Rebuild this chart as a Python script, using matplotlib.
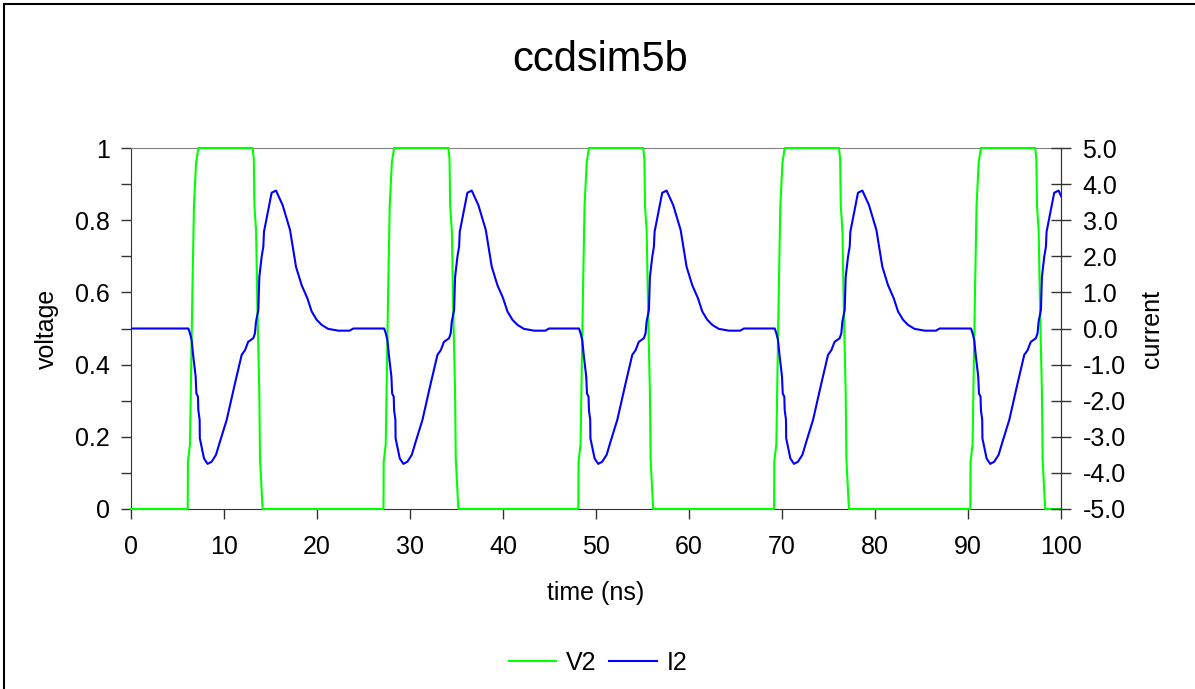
import numpy as np
import matplotlib.pyplot as plt
from matplotlib.patches import Rectangle

plt.rcParams['font.family'] = ['Liberation Sans', 'DejaVu Sans']

# one pulse of each trace (time in ns)
v2_t = [6.1, 6.12, 6.34, 6.6, 6.77, 7.0, 7.24, 13.08, 13.2, 13.27,
        13.45, 13.6, 13.8, 13.87, 14.15]
v2_v = [0, 0.13, 0.18, 0.6, 0.84, 0.96, 1.0, 1.0, 0.97, 0.84,
        0.77, 0.55, 0.32, 0.14, 0]

i2_t = [6.17, 6.34, 6.52, 6.7, 6.95, 7.03, 7.2, 7.24, 7.38, 7.4,
        7.85, 8.24, 8.67, 9.14, 9.57, 10.29, 11.18, 11.9, 12.26, 12.6,
        13.15, 13.33, 13.44, 13.69, 13.8, 14.05, 14.16, 14.23, 14.3, 15.12,
        15.59, 16.3, 17.1, 17.74, 18.35, 18.96, 19.43, 19.97, 20.5, 21.2,
        22.3, 23.5, 23.9]
i2_i = [0, -0.13, -0.32, -0.78, -1.33, -1.8, -1.89, -2.26, -2.53, -3.04,
        -3.6, -3.75, -3.69, -3.5, -3.13, -2.53, -1.52, -0.73, -0.6, -0.37,
        -0.27, -0.13, 0.19, 0.51, 1.43, 1.99, 2.17, 2.27, 2.68, 3.76,
        3.82, 3.42, 2.73, 1.71, 1.2, 0.84, 0.47, 0.24, 0.1, -0.01,
        -0.06, -0.06, 0]

# where each cycle sits relative to the first one
cycle_shift = [0, 21.05, 42.0, 63.05, 84.15]

volt_ticks = [0, 0.2, 0.4, 0.6, 0.8, 1]
volt_labels = ['0', '0.2', '0.4', '0.6', '0.8', '1']
curr_ticks = [-5, -4, -3, -2, -1, 0, 1, 2, 3, 4, 5]
curr_labels = ['-5.0', '-4.0', '-3.0', '-2.0', '-1.0', '0.0',
               '1.0', '2.0', '3.0', '4.0', '5.0']
time_ticks = [0, 10, 20, 30, 40, 50, 60, 70, 80, 90, 100]

vt = np.concatenate([[0]] + [np.array(v2_t) + s for s in cycle_shift] + [[100]])
vv = np.concatenate([[0]] + [np.array(v2_v) for s in cycle_shift] + [[0]])
it = np.concatenate([[0]] + [np.array(i2_t) + s for s in cycle_shift])
ii = np.concatenate([[0]] + [np.array(i2_i) for s in cycle_shift])

fig = plt.figure(figsize=(11.95, 6.89), dpi=100)
fig.patches.append(Rectangle((3.5 / 1195, -0.1), 2, 1.1 - 4.5 / 689,
                             fill=False, lw=1.5, ec='black',
                             transform=fig.transFigure))

ax = fig.add_axes([131 / 1195, 1 - 509 / 689, 930 / 1195, 361 / 689])
ax2 = ax.twinx()

# green sits on top of the frame lines, so no clipping
lv, = ax.plot(vt, vv, color='#00ff00', lw=1.5, label='V2',
              clip_on=False, zorder=3)
li, = ax2.plot(it, ii, color='#0000ff', lw=1.5, label='I2')

ax.set_xlim(0, 100)
ax.set_ylim(0, 1)
ax2.set_ylim(-5, 5)

ax.set_xticks(time_ticks)
ax.set_yticks(volt_ticks)
ax.set_yticklabels(volt_labels)
ax.set_yticks(np.arange(0.1, 1, 0.2), minor=True)
ax2.set_yticks(curr_ticks)
ax2.set_yticklabels(curr_labels)

ax.tick_params(axis='both', which='both', direction='out', length=7,
               width=1, labelsize=18, color='#333333')
ax.tick_params(axis='y', pad=8)
ax.tick_params(axis='x', pad=12)
ax2.tick_params(axis='y', direction='inout', length=15, width=1,
                labelsize=18, pad=8, color='#333333')

ax.spines['top'].set_color('#808080')
for s in ('left', 'right', 'bottom'):
    ax.spines[s].set_color('#333333')
for s in ('left', 'top', 'bottom'):
    ax2.spines[s].set_visible(False)
ax2.spines['right'].set_color('#333333')
ax2.patch.set_alpha(0)

ax.set_xlabel('time (ns)', fontsize=18, va='center')
ax.xaxis.set_label_coords(0.5, (509 - 593) / 361)
ax.set_ylabel('voltage', fontsize=18, va='center')
ax.yaxis.set_label_coords((47 - 131) / 930, 0.5)
ax2.set_ylabel('current', fontsize=18, va='center')
ax2.yaxis.set_label_coords((1152 - 131) / 930, 0.5)

fig.text(600 / 1195, 1 - 60 / 689, 'ccdsim5b', fontsize=30,
         ha='center', va='center')

fig.legend(handles=[lv, li], loc='center', bbox_to_anchor=(598 / 1195, 1 - 663 / 689),
           ncol=2, frameon=False, fontsize=18, handlelength=1.9,
           handletextpad=0.4, columnspacing=0.5)

fig.savefig('out.png', dpi=100)
